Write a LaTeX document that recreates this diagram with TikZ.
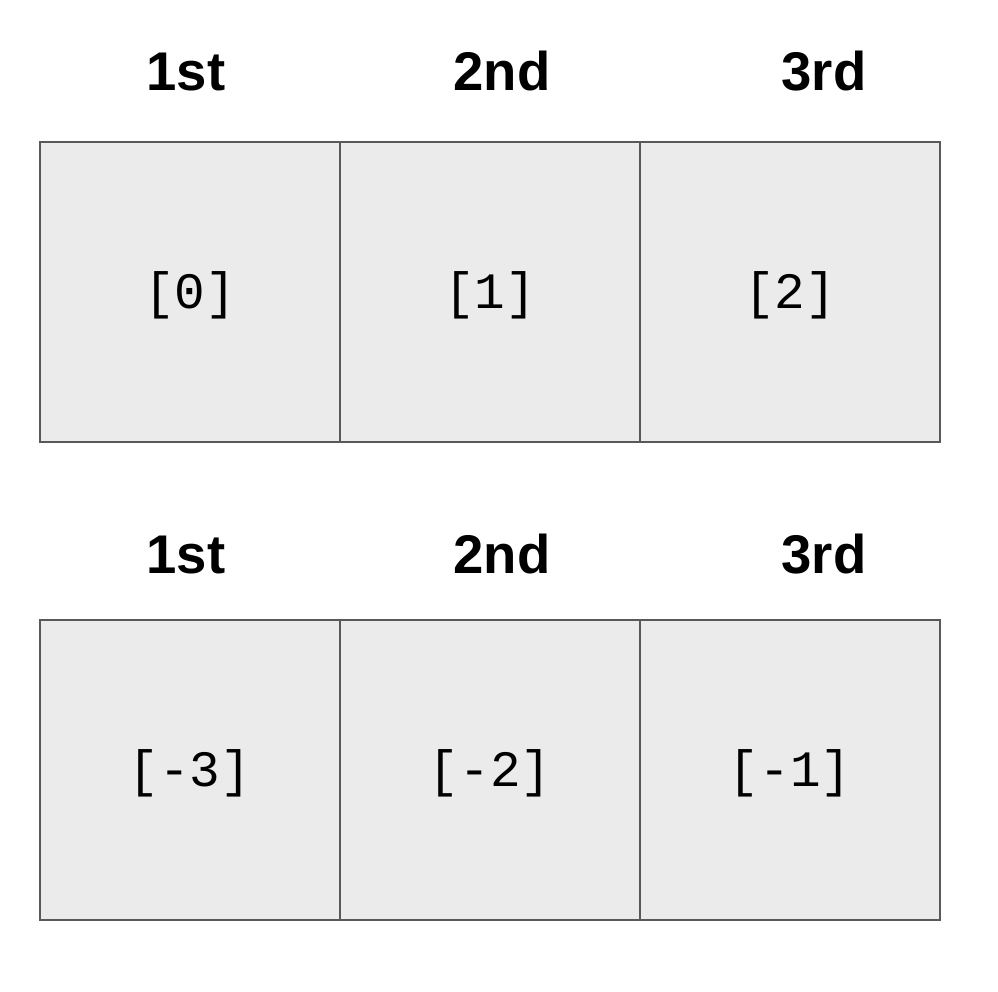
\documentclass[tikz,border=0pt]{standalone}
\usepackage{fontspec}
\setmainfont{Liberation Sans}
\setmonofont{Liberation Mono}
\usetikzlibrary{calc}
\definecolor{cellfill}{HTML}{EBEBEB}
\definecolor{cellline}{HTML}{595959}

\begin{document}
\begin{tikzpicture}[x=0.01cm,y=-0.01cm]

\tikzset{cell/.style={draw=cellline, fill=cellfill, line width=0.22mm,
    minimum size=3cm, inner sep=0pt, outer sep=0pt},
  idx/.style={font=\fontsize{14.5}{17}\selectfont\ttfamily},
  head/.style={anchor=base, font=\fontsize{15.5}{18}\selectfont\bfseries}}

\useasboundingbox (0,0) rectangle (998,992);

% top row: positive indices
\foreach \i/\hx/\name in {0/186/1st,1/502/2nd,2/824/3rd}
{
\node[cell] (top\i) at ($ (190,292) +(300*\i,0) $) {};
\node[idx] (topi\i) at ($ (top\i) +(0,3) $) {[\i]};
\node[head] (toph\i) at (\hx,91) {\name};
}

% bottom row: negative indices
\foreach \i/\n/\hx/\name in {0/-3/186/1st,1/-2/502/2nd,2/-1/824/3rd}
{
\node[cell] (bot\i) at ($ (190,770) +(300*\i,0) $) {};
\node[idx] (boti\i) at ($ (bot\i) +(0,3) $) {[\n]};
\node[head] (both\i) at (\hx,573) {\name};
}
\end{tikzpicture}
\end{document}
